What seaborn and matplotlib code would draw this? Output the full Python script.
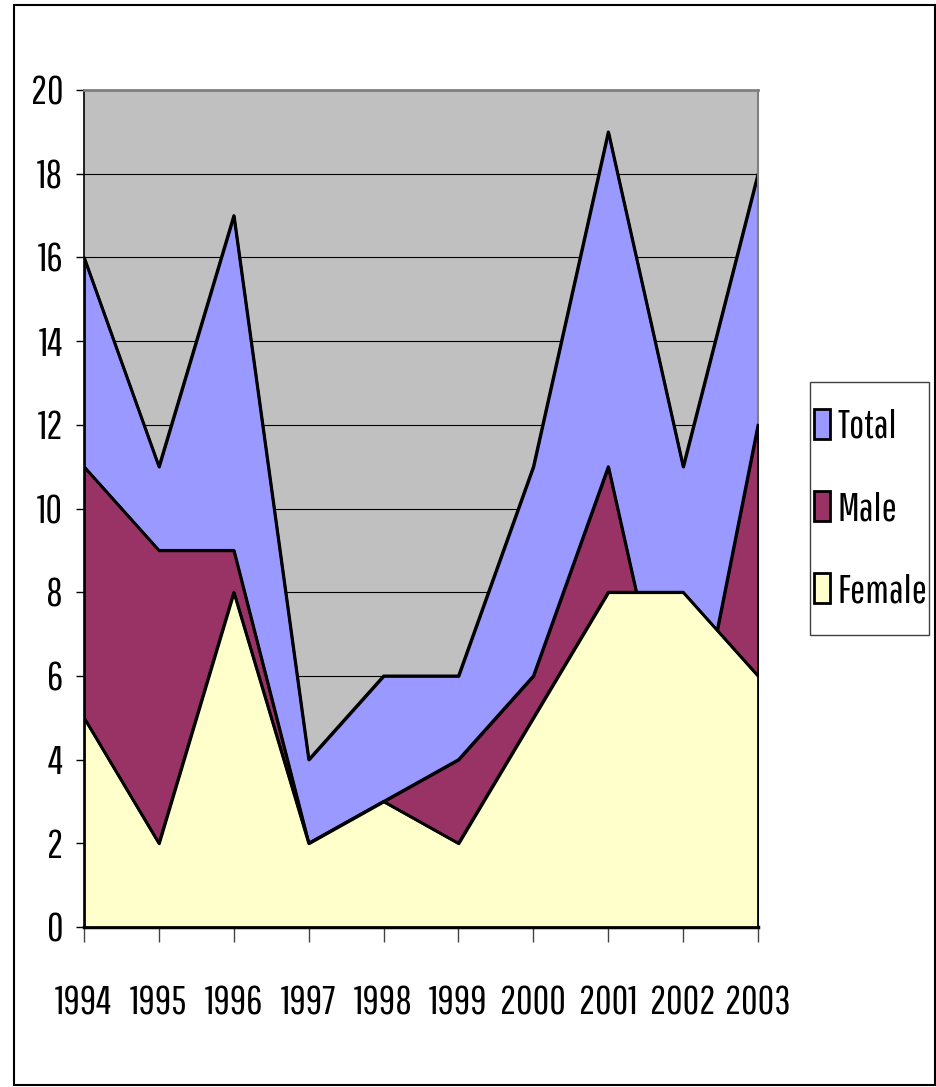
import numpy as np
import pandas as pd
import matplotlib
matplotlib.use("Agg")
import matplotlib.pyplot as plt
from matplotlib.patches import Rectangle
import seaborn as sns

# Datos
years = ['1994', '1995', '1996', '1997', '1998', '1999', '2000', '2001', '2002', '2003']
total = [16, 11, 17, 4, 6, 6, 11, 19, 11, 18]
male = [11, 9, 9, 2, 3, 4, 6, 11, 3, 12]
female = [5, 2, 8, 2, 3, 2, 5, 8, 8, 6]

df = pd.DataFrame({'year': years, 'Total': total, 'Male': male, 'Female': female})
df['pos'] = np.arange(len(df))

sns.set_style("white")
plt.rcParams['font.family'] = ['Pathway Gothic One', 'DejaVu Sans']
plt.rcParams['text.color'] = 'black'
plt.rcParams['xtick.color'] = 'black'
plt.rcParams['ytick.color'] = 'black'

W, H = 937, 1087
fig = plt.figure(figsize=(W / 100, H / 100), dpi=100)

# Marco exterior
fig.patches.append(Rectangle((14 / W, 1 - 1085 / H), 921 / W, 1080 / H, transform=fig.transFigure,
                             fill=False, edgecolor='black', linewidth=1.5))

ax = fig.add_axes([84 / W, 1 - 927 / H, 674 / W, 837 / H])
ax.set_facecolor('#C0C0C0')

# Areas superpuestas: Total al fondo, luego Male y Female encima
colores = {'Total': '#9999FF', 'Male': '#993366', 'Female': '#FFFFCC'}
for i, serie in enumerate(['Total', 'Male', 'Female']):
    ax.fill_between(df['pos'], df[serie], 0, facecolor=colores[serie], edgecolor='black',
                    linewidth=2, zorder=2 + i, label=serie)
    sns.lineplot(x='pos', y=serie, data=df, color='black', linewidth=2, ax=ax, zorder=2 + i, legend=False)

ax.set_xlim(0, len(years) - 1)
ax.set_ylim(0, 20)
ax.set_yticks(range(0, 21, 2))
ax.set_xticks(df['pos'])
ax.set_xticklabels(years)
ax.set_xlabel('')
ax.set_ylabel('')
ax.set_axisbelow(True)
ax.yaxis.grid(True, color='black', linewidth=0.8)
ax.tick_params(axis='y', direction='out', length=6, width=1, color='black', labelsize=29, pad=9, left=True)
ax.tick_params(axis='x', direction='out', length=11, width=1, color='#444444', labelsize=29, pad=31, bottom=True)

ax.spines['left'].set_color('black')
ax.spines['left'].set_linewidth(1.2)
ax.spines['bottom'].set_color('black')
ax.spines['bottom'].set_linewidth(2.5)
ax.spines['top'].set_color('#808080')
ax.spines['top'].set_linewidth(2)
ax.spines['right'].set_color('#808080')
ax.spines['right'].set_linewidth(1.5)

# Leyenda (marco dibujado aparte)
fig.patches.append(Rectangle((810 / W, 1 - 635 / H), 119 / W, 253 / H, transform=fig.transFigure,
                             facecolor='white', edgecolor='#404040', linewidth=1, zorder=0))
handles, labels = ax.get_legend_handles_labels()
leg = fig.legend(handles, labels, loc='center', bbox_to_anchor=(871 / W, 1 - 509 / H),
                 fontsize=29, frameon=False, handlelength=0.38, handleheight=0.77,
                 handletextpad=0.2, labelspacing=1.15, borderpad=0, borderaxespad=0)
for h in leg.legend_handles:
    h.set_linewidth(2)

plt.savefig('out.png', dpi=100)
